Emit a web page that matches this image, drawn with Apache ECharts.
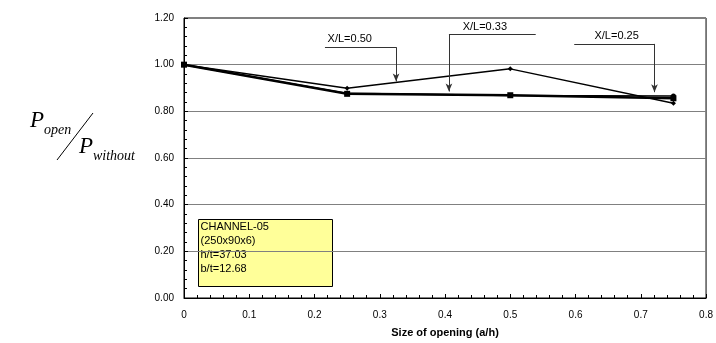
<!DOCTYPE html>
<html>
<head>
<meta charset="utf-8">
<script src="https://cdn.jsdelivr.net/npm/echarts@6/dist/echarts.min.js"></script>
<style>
  html, body { margin: 0; padding: 0; background: #fff; }
  #chart { width: 716px; height: 343px; }
</style>
</head>
<body>
<div id="chart"></div>
<script>
// opening size a/h
var sizes = [0, 0.25, 0.5, 0.75];

// P_open / P_without for each hole position
var xl050 = [1.0, 0.899, 0.982, 0.835];
var xl033 = [1.0, 0.875, 0.869, 0.856];
var xl025 = [1.0, 0.877, 0.868, 0.866];

var xTicks = [0, 0.1, 0.2, 0.3, 0.4, 0.5, 0.6, 0.7, 0.8];

// leader labels, in data units
var notes = [
  { text: 'X/L=0.50', tx: 0.254, ty: 1.112, x1: 0.216, x2: 0.325, hy: 1.075, vx: 0.325, vy: 0.928 },
  { text: 'X/L=0.33', tx: 0.461, ty: 1.162, x1: 0.406, x2: 0.539, hy: 1.129, vx: 0.406, vy: 0.885 },
  { text: 'X/L=0.25', tx: 0.663, ty: 1.124, x1: 0.598, x2: 0.721, hy: 1.089, vx: 0.721, vy: 0.882 }
];

var boxLines = ['CHANNEL-05', '(250x90x6)', 'h/t=37.03', 'b/t=12.68'];

function pairs(ys) {
  return sizes.map(function (x, i) { return [x, ys[i]]; });
}

var leaderData = [];
notes.forEach(function (n) {
  leaderData.push([{ coord: [n.x1, n.hy], symbol: 'none' }, { coord: [n.x2, n.hy], symbol: 'none' }]);
  leaderData.push([{ coord: [n.vx, n.hy], symbol: 'none' }, { coord: [n.vx, n.vy], symbol: 'arrow', symbolSize: [5, 8] }]);
});

var serif = '"Liberation Serif", "DejaVu Serif", serif';

var chart = echarts.init(document.getElementById('chart'));

var option = {
  animation: false,
  textStyle: { fontFamily: 'Arial, "Liberation Sans", sans-serif' },
  grid: {
    left: 184, right: 6, top: 18, bottom: 43,
    show: true, borderColor: '#000', borderWidth: 1
  },
  xAxis: {
    type: 'value',
    min: 0, max: 0.8, interval: 0.1,
    name: 'Size of opening (a/h)',
    nameLocation: 'middle',
    nameGap: 29,
    nameTextStyle: { fontWeight: 'bold', fontSize: 11, color: '#000' },
    axisLine: { onZero: false, lineStyle: { color: '#000', width: 1 } },
    axisTick: { inside: true, length: 4, lineStyle: { color: '#000' } },
    minorTick: { show: true, splitNumber: 5, length: 3, lineStyle: { color: '#000' } },
    axisLabel: {
      fontSize: 10, color: '#000', margin: 12,
      formatter: function (v) { var r = Math.round(v * 10) / 10; return xTicks.indexOf(r) >= 0 ? String(r) : ''; }
    },
    splitLine: { show: false }
  },
  yAxis: {
    type: 'value',
    min: 0, max: 1.2, interval: 0.2,
    axisLine: { show: true, lineStyle: { color: '#000', width: 1 } },
    axisTick: { show: true, inside: true, length: 4, lineStyle: { color: '#000' } },
    minorTick: { show: true, splitNumber: 5, length: 3, lineStyle: { color: '#000' } },
    axisLabel: {
      fontSize: 10, color: '#000', margin: 10,
      formatter: function (v) { return v.toFixed(2); }
    },
    splitLine: { show: true, lineStyle: { color: '#808080', width: 1 } }
  },
  series: [
    {
      name: 'X/L=0.50', type: 'line', data: pairs(xl050),
      symbol: 'diamond', symbolSize: 5,
      itemStyle: { color: '#000' }, lineStyle: { color: '#000', width: 1.5 }, z: 3
    },
    {
      name: 'X/L=0.33', type: 'line', data: pairs(xl033),
      symbol: 'rect', symbolSize: 6,
      itemStyle: { color: '#000' }, lineStyle: { color: '#000', width: 2.5 }, z: 4
    },
    {
      name: 'X/L=0.25', type: 'line', data: pairs(xl025),
      symbol: 'circle', symbolSize: 5,
      itemStyle: { color: '#000' }, lineStyle: { color: '#000', width: 1.5 }, z: 3
    },
    {
      name: 'notes', type: 'line', data: [],
      markLine: {
        silent: true, animation: false,
        lineStyle: { color: '#333', width: 1, type: 'solid' },
        label: { show: false },
        data: leaderData
      },
      markPoint: {
        silent: true,
        symbol: 'circle', symbolSize: 0,
        label: { show: true, position: 'inside', color: '#000', fontSize: 11,
                 formatter: function (p) { return p.name; } },
        data: notes.map(function (n) { return { name: n.text, coord: [n.tx, n.ty] }; })
      }
    }
  ],
  graphic: [
    {
      type: 'group', left: 198, top: 219,
      children: [
        { type: 'rect', shape: { x: 0, y: 0, width: 134, height: 67 },
          style: { fill: '#ffff99', stroke: '#000', lineWidth: 1 } },
        { type: 'text', left: 2, top: 1,
          style: { text: boxLines.join('\n'), font: '11px Arial, "Liberation Sans", sans-serif',
                   lineHeight: 13.8, fill: '#000' } }
      ]
    },
    // y axis title: P_open / P_without
    { type: 'text', left: 30, top: 109, style: { text: 'P', font: 'italic 23px ' + serif, fill: '#000' } },
    { type: 'text', left: 44, top: 123, style: { text: 'open', font: 'italic 14px ' + serif, fill: '#000' } },
    { type: 'line', shape: { x1: 57, y1: 160, x2: 93, y2: 113 }, style: { stroke: '#000', lineWidth: 1 } },
    { type: 'text', left: 79, top: 135, style: { text: 'P', font: 'italic 23px ' + serif, fill: '#000' } },
    { type: 'text', left: 93, top: 149, style: { text: 'without', font: 'italic 14px ' + serif, fill: '#000' } }
  ]
};

chart.setOption(option);
</script>
</body>
</html>
